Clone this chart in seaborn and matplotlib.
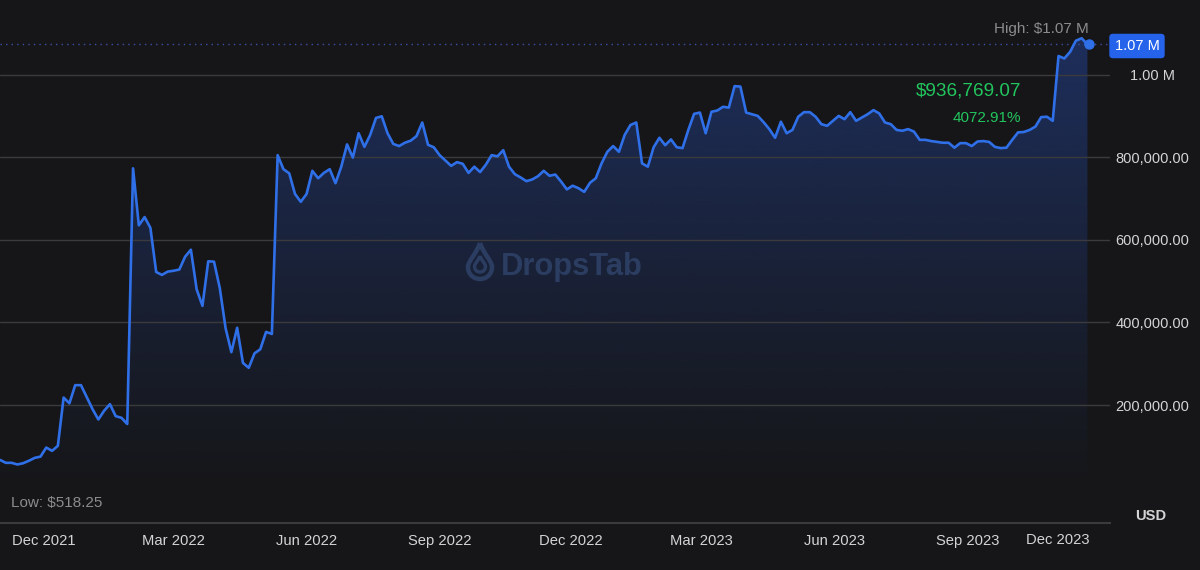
import numpy as np
import pandas as pd
import matplotlib
matplotlib.use('Agg')
import matplotlib.pyplot as plt
import matplotlib.dates as mdates
from matplotlib.path import Path
from matplotlib.patches import PathPatch
import seaborn as sns

# ------------------------
# Data (USD, thousands)
# ------------------------

start_date = '2021-11-01'
step = '4D'
price_k = [
    67, 60, 60, 56, 59, 65, 72, 75, 97, 89, 101, 218, 204, 248, 248, 219, 190, 165, 186, 202,
    173, 169, 154, 773, 635, 655, 629, 522, 515, 523, 525, 528, 559, 576, 480, 440, 548, 547, 483, 386,
    328, 387, 302, 290, 325, 335, 377, 372, 805, 771, 761, 711, 692, 711, 767, 749, 762, 771, 737, 777,
    831, 799, 858, 825, 854, 895, 899, 858, 832, 827, 835, 840, 851, 884, 830, 824, 805, 792, 779, 788,
    784, 762, 777, 764, 782, 805, 802, 817, 777, 759, 751, 742, 746, 754, 767, 755, 758, 741, 722, 731,
    725, 716, 738, 749, 785, 813, 827, 813, 854, 878, 884, 785, 777, 824, 847, 829, 843, 824, 822, 866,
    905, 908, 858, 910, 913, 922, 920, 972, 971, 908, 904, 900, 885, 868, 847, 886, 858, 866, 898, 909,
    909, 898, 880, 876, 888, 900, 892, 909, 888, 896, 904, 914, 906, 884, 880, 866, 864, 868, 862, 842,
    842, 839, 837, 835, 835, 823, 834, 834, 827, 838, 839, 837, 825, 822, 823, 842, 860, 861, 866, 874,
    897, 898, 888, 1045, 1039, 1055, 1082, 1088, 1073,
]
y_ticks = [200000, 400000, 600000, 800000, 1000000]
y_labels = ['200,000.00', '400,000.00', '600,000.00', '800,000.00', '1.00 M']
x_tick_dates = ['2021-12-01', '2022-03-01', '2022-06-01', '2022-09-01', '2022-12-01',
                '2023-03-01', '2023-06-01', '2023-09-01']
x_labels = ['Dec 2021', 'Mar 2022', 'Jun 2022', 'Sep 2022', 'Dec 2022',
            'Mar 2023', 'Jun 2023', 'Sep 2023']

BG = '#161618'
BLUE = '#2f6fe8'
GREEN = '#22c55e'
GREY = '#8c8c8e'
W, H = 1200, 570

sns.set_theme(style='dark', rc={'axes.facecolor': BG, 'figure.facecolor': BG})
plt.rcParams['font.family'] = ['Liberation Sans', 'DejaVu Sans']

df = pd.DataFrame({'date': pd.date_range(start_date, periods=len(price_k), freq=step),
                   'price': np.array(price_k) * 1000.0})

fig = plt.figure(figsize=(W / 100, H / 100), dpi=100)
ax = fig.add_axes([0, (H - 523) / H, 1110 / W, 523 / H])

# axis limits line up with the pixel grid of the reference
x0 = mdates.date2num(df['date'].iloc[0])
x1 = x0 + 767.6
y0, y1 = -85700, 1180600

sns.lineplot(data=df, x='date', y='price', color=BLUE, linewidth=1.9, ax=ax, zorder=4)

# gradient under the line
poly = ax.fill_between(df['date'], df['price'], y0, color='none')
alpha = np.linspace(1, 0, 256) ** 1.1
rgba = np.zeros((256, 1, 4))
rgba[:, 0, :3] = matplotlib.colors.to_rgb('#1e3060')
rgba[:, 0, 3] = alpha * 0.95
img = ax.imshow(rgba, extent=[x0, x0 + 752, -30000, 1090000], aspect='auto', origin='upper', zorder=1)
img.set_clip_path(poly.get_paths()[0], transform=ax.transData)

last = df['price'].iloc[-1]
ax.axhline(last, color='#3d4fa8', linewidth=1, linestyle=(0, (1, 3)), zorder=2)
ax.plot(df['date'].iloc[-1] + pd.Timedelta(days=1), last, 'o', color=BLUE, markersize=6.5, zorder=5)

ax.set_xlim(x0, x1)
ax.set_ylim(y0, y1)
ax.set_xlabel('')
ax.set_ylabel('')
ax.grid(axis='y', color='#3b3b3d', linewidth=1)
ax.set_axisbelow(False)
for line in ax.get_ygridlines():
    line.set_zorder(3)
for name, spine in ax.spines.items():
    spine.set_visible(name == 'bottom')
ax.spines['bottom'].set_color('#3b3b3d')
ax.spines['bottom'].set_linewidth(1.5)

ax.yaxis.tick_right()
ax.set_yticks(y_ticks, y_labels)
ax.tick_params(axis='y', length=0, pad=30.5, labelsize=10.5, labelcolor='#d4d4d4')
for lab in ax.get_yticklabels():
    lab.set_ha('center')

ax.set_xticks(mdates.date2num(pd.to_datetime(x_tick_dates)), x_labels)
ax.tick_params(axis='x', length=0, pad=8, labelsize=10.6, labelcolor='#d4d4d4')


def label(x, y, s, **kw):
    fig.text(x / W, 1 - y / H, s, va='center_baseline', **kw)


# last x label is pushed in from the edge
label(1058, 539, 'Dec 2023', color='#d4d4d4', fontsize=10.6, ha='center')
label(1089, 27, 'High: $1.07 M', color=GREY, fontsize=11, ha='right')
label(11, 501, 'Low: $518.25', color=GREY, fontsize=11, ha='left')
label(1021, 89, '$936,769.07', color=GREEN, fontsize=13.6, ha='right')
label(1021, 116, '4072.91%', color=GREEN, fontsize=11, ha='right')
label(1151, 515, 'USD', color='#d4d4d4', fontsize=10.6, ha='center', fontweight='bold')
label(1137, 44.5, '1.07 M', color='white', fontsize=10.5, ha='center',
      bbox=dict(boxstyle='round,pad=0.36,rounding_size=0.25', facecolor='#2563eb', edgecolor='none'))

# watermark
WM = '#2c3d62'
label(501, 263, 'DropsTab', color=WM, fontsize=22.2, ha='left', fontweight='bold', zorder=3)


def px(x, y):
    return (x / W, 1 - y / H)


def drop(cx, top, bottom, half):
    mid = bottom - half
    verts = [px(cx, top),
             px(cx + half * 0.3, top + (mid - top) * 0.45), px(cx + half, mid - half * 0.5), px(cx + half, mid),
             px(cx + half, bottom - half * 0.4), px(cx + half * 0.55, bottom), px(cx, bottom),
             px(cx - half * 0.55, bottom), px(cx - half, bottom - half * 0.4), px(cx - half, mid),
             px(cx - half, mid - half * 0.5), px(cx - half * 0.3, top + (mid - top) * 0.45), px(cx, top)]
    codes = [Path.MOVETO] + [Path.CURVE4] * 12
    return Path(verts, codes)


fig.add_artist(PathPatch(drop(480, 243, 279, 12), transform=fig.transFigure, fill=False,
                         edgecolor=WM, linewidth=3.2, zorder=3))
fig.add_artist(PathPatch(drop(480, 256, 272, 5.5), transform=fig.transFigure, fill=False,
                         edgecolor=WM, linewidth=2.4, zorder=3))

fig.savefig('out.png', dpi=100, facecolor=BG)
